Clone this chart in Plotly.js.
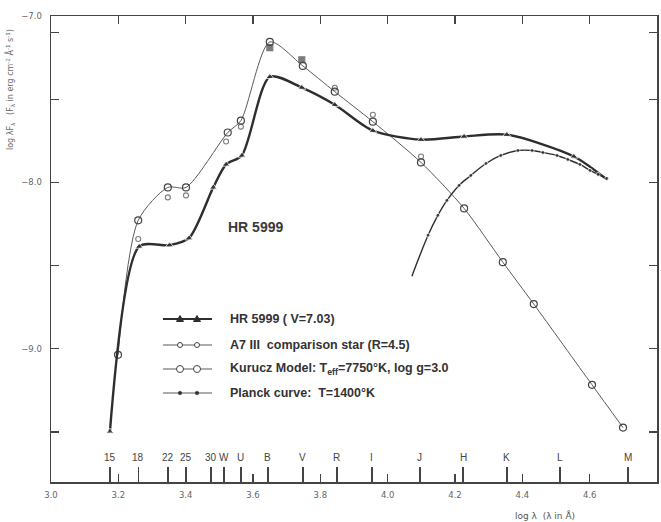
<!DOCTYPE html>
<html>
<head>
<meta charset="utf-8">
<script src="https://cdn.plot.ly/plotly-3.0.1.min.js"></script>
<style>html,body{margin:0;padding:0;background:#fff;}#chart{width:661px;height:522px;}</style>
</head>
<body>
<div id="chart"></div>
<script>
// Filter bands (log wavelength) and labels
const filterNames = ['15','18','22','25','30','W','U','B','V','R','I','J','H','K','L','M'];
const filterLogLam = [3.175,3.259,3.347,3.401,3.475,3.514,3.564,3.644,3.748,3.849,3.953,4.096,4.224,4.354,4.512,4.714];

// HR 5999 observed (triangles); last point is the end of the drawn curve
const hrX = [3.175,3.262,3.352,3.410,3.482,3.520,3.567,3.650,3.745,3.843,3.956,4.099,4.227,4.354,4.553,4.651];
const hrY = [-9.497,-8.385,-8.377,-8.335,-8.030,-7.892,-7.838,-7.365,-7.430,-7.533,-7.689,-7.743,-7.724,-7.713,-7.844,-7.982];

// A7 III comparison star (small circles)
const compX = [3.259,3.347,3.401,3.520,3.564,3.650,3.745,3.843,3.956,4.099];
const compY = [-8.340,-8.090,-8.078,-7.754,-7.665,-7.190,-7.263,-7.431,-7.593,-7.844];

// Kurucz model Teff=7750K, log g=3.0 (large circles)
const kurX = [3.199,3.259,3.347,3.401,3.525,3.564,3.650,3.748,3.843,3.956,4.099,4.227,4.342,4.434,4.607,4.699];
const kurY = [-9.036,-8.228,-8.030,-8.030,-7.700,-7.629,-7.156,-7.300,-7.455,-7.635,-7.880,-8.156,-8.479,-8.731,-9.216,-9.473];

// Planck curve T=1400K (first point = start of drawn curve)
const plX = [4.072,4.120,4.149,4.176,4.212,4.247,4.292,4.336,4.387,4.429,4.461,4.503,4.535,4.571,4.601,4.625,4.651];
const plY = [-8.563,-8.317,-8.198,-8.108,-8.018,-7.958,-7.886,-7.838,-7.808,-7.808,-7.820,-7.838,-7.862,-7.892,-7.928,-7.952,-7.976];

const yTickVals = [-7.0,-8.0,-9.0];
const yTickText = ['\u22127.0','\u22128.0','\u22129.0'];
const yMinorVals = [-7.1,-7.5,-8.5,-9.5];
const xTickVals = [3.0,3.2,3.4,3.6,3.8,4.0,4.2,4.4,4.6,4.8];
const xTickText = ['3.0','3.2','3.4','3.6','3.8','4.0','4.2','4.4','4.6','4.8'];

const dark = '#2e2e2e', mid = '#5a5a5a';

const traces = [
  {x: kurX, y: kurY, mode: 'lines+markers', line: {shape: 'spline', smoothing: 0.75, color: mid, width: 1},
   marker: {symbol: 'circle-open', size: 7, color: '#444', line: {width: 1.2}}, showlegend: false, hoverinfo: 'skip'},
  {x: compX, y: compY, mode: 'markers',
   marker: {symbol: compX.map((v,i)=> (i===5||i===6) ? 'square' : 'circle-open'), size: compX.map((v,i)=> (i===5||i===6) ? 6 : 5), color: '#444', line: {width: 1.1, color: '#444'}},
   showlegend: false, hoverinfo: 'skip'},
  {x: hrX, y: hrY, mode: 'lines+markers', line: {shape: 'spline', smoothing: 0.75, color: dark, width: 2.4},
   marker: {symbol: 'triangle-up', size: hrX.map((v,i)=> i===hrX.length-1 ? 0 : 7), color: dark},
   showlegend: false, hoverinfo: 'skip'},
  {x: plX, y: plY, mode: 'lines+markers', line: {shape: 'spline', color: dark, width: 1.4},
   marker: {symbol: 'circle', size: plX.map((v,i)=> i===0 ? 0 : 4), color: dark},
   showlegend: false, hoverinfo: 'skip'}
];

const px = p => (p - 51) / 606;
const py = p => (482 - p) / 466;

const annotations = [];
filterNames.forEach((n, i) => {
  annotations.push({x: filterLogLam[i], xref: 'x', y: py(457), yref: 'paper', text: n, showarrow: false,
    font: {family: 'Liberation Sans, Arial, sans-serif', size: 10, color: '#444'}, xanchor: 'center', yanchor: 'middle'});
});
annotations.push({x: px(255), y: py(227), xref: 'paper', yref: 'paper', text: '<b>HR 5999</b>', showarrow: false,
  font: {family: 'Liberation Sans, Arial, sans-serif', size: 14, color: '#3a3a3a'}, xanchor: 'center', yanchor: 'middle'});
annotations.push({x: px(10), y: py(90), xref: 'paper', yref: 'paper', textangle: -90, showarrow: false,
  text: 'log \u03bbF<sub>\u03bb</sub>   (F<sub>\u03bb</sub> in erg cm<sup>-2</sup> \u00c5<sup>-1</sup> s<sup>-1</sup>)',
  font: {family: 'DejaVu Sans, sans-serif', size: 8, color: '#666'}, xanchor: 'center', yanchor: 'middle'});
annotations.push({x: px(545), y: py(515), xref: 'paper', yref: 'paper', showarrow: false,
  text: 'log \u03bb  (\u03bb in \u00c5)',
  font: {family: 'DejaVu Sans, sans-serif', size: 9, color: '#555'}, xanchor: 'center', yanchor: 'middle'});

const legendRows = [
  {y: 319, text: '<b>HR 5999 ( V=7.03)</b>'},
  {y: 345, text: '<b>A7 III  comparison star (R=4.5)</b>'},
  {y: 369, text: '<b>Kurucz Model: T<sub>eff</sub>=7750\u00b0K, log g=3.0</b>'},
  {y: 393, text: '<b>Planck curve:  T=1400\u00b0K</b>'}
];
const shapes = [];
legendRows.forEach((r, i) => {
  annotations.push({x: px(228), y: py(r.y), xref: 'paper', yref: 'paper', text: r.text, showarrow: false,
    font: {family: 'Liberation Sans, Arial, sans-serif', size: 12.5, color: '#333'}, xanchor: 'left', yanchor: 'middle'});
  shapes.push({type: 'line', xref: 'paper', yref: 'paper', x0: px(163), x1: px(212), y0: py(r.y), y1: py(r.y),
    line: {color: i === 0 ? dark : mid, width: i === 0 ? 2 : 1}});
  [180, 197].forEach(mx => {
    const base = {xref: 'paper', yref: 'paper', xsizemode: 'pixel', ysizemode: 'pixel', xanchor: px(mx), yanchor: py(r.y)};
    if (i === 0) {
      shapes.push(Object.assign({type: 'path', path: 'M -3.5,-2.5 L 3.5,-2.5 L 0,3.5 Z', fillcolor: dark, line: {color: dark, width: 1}}, base));
    } else if (i === 1) {
      shapes.push(Object.assign({type: 'circle', x0: -2.5, x1: 2.5, y0: -2.5, y1: 2.5, fillcolor: '#fff', line: {color: '#444', width: 1}}, base));
    } else if (i === 2) {
      shapes.push(Object.assign({type: 'circle', x0: -3.5, x1: 3.5, y0: -3.5, y1: 3.5, fillcolor: '#fff', line: {color: '#444', width: 1}}, base));
    } else {
      shapes.push(Object.assign({type: 'circle', x0: -1.8, x1: 1.8, y0: -1.8, y1: 1.8, fillcolor: dark, line: {color: dark, width: 0.5}}, base));
    }
  });
});

const layout = {
  width: 661, height: 522,
  margin: {l: 51, r: 4, t: 16, b: 40},
  paper_bgcolor: '#fff', plot_bgcolor: '#fff',
  showlegend: false,
  xaxis: {range: [3.0, 4.8], tickvals: xTickVals, ticktext: xTickText, ticks: 'inside', ticklen: 8, tickwidth: 1.2,
    tickcolor: '#444', showgrid: false, zeroline: false, showline: true, linecolor: '#444', linewidth: 1.5, mirror: 'ticks',
    tickfont: {family: 'DejaVu Sans, sans-serif', size: 8.5, color: '#666'}, ticklabelstandoff: 4},
  xaxis2: {range: [3.0, 4.8], overlaying: 'x', anchor: 'y', side: 'bottom', tickvals: filterLogLam, ticks: 'inside', ticklen: 15,
    tickwidth: 1.4, tickcolor: '#444', showticklabels: false, showgrid: false, zeroline: false, showline: false},
  yaxis: {range: [-9.8, -7.0], tickvals: yTickVals, ticktext: yTickText, ticks: 'inside', ticklen: 8, tickwidth: 1.2,
    tickcolor: '#444', showgrid: false, zeroline: false, showline: true, linecolor: '#444', linewidth: 1.5, mirror: 'ticks',
    minor: {tickvals: yMinorVals, ticks: 'inside', ticklen: 8, tickwidth: 1.2, tickcolor: '#444', showgrid: false},
    tickfont: {family: 'DejaVu Sans, sans-serif', size: 8.5, color: '#666'}, ticklabelstandoff: 6},
  annotations: annotations,
  shapes: shapes
};

// empty trace so that the filter-tick axis is drawn
traces.push({x: [], y: [], xaxis: 'x2', yaxis: 'y', mode: 'markers', showlegend: false, hoverinfo: 'skip'});

Plotly.newPlot('chart', traces, layout, {displayModeBar: false, staticPlot: true});
</script>
</body>
</html>
